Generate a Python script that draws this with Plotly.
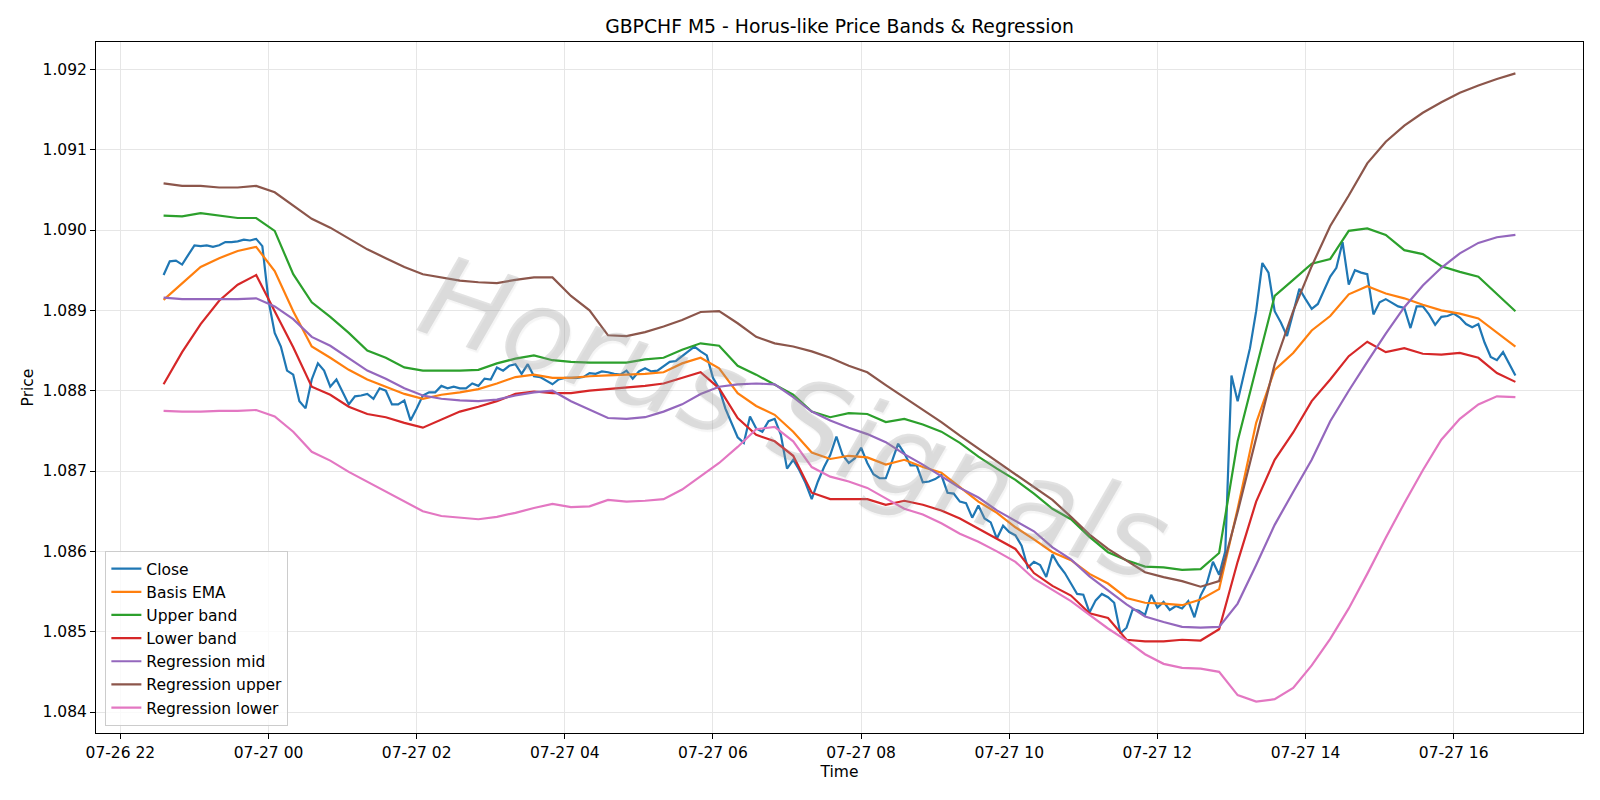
import pandas as pd
import plotly.graph_objects as go

# ---------------- data ----------------
close = [
    1.08944, 1.08961, 1.08962, 1.08957, 1.08969, 1.08981, 1.08980, 1.08981, 1.08979, 1.08981,
    1.08985, 1.08985, 1.08986, 1.08988, 1.08987, 1.08989, 1.08980, 1.08912, 1.08872, 1.08855,
    1.08825, 1.08820, 1.08787, 1.08778, 1.08814, 1.08834, 1.08825, 1.08805, 1.08814, 1.08799,
    1.08783, 1.08793, 1.08794, 1.08796, 1.08790, 1.08803, 1.08800, 1.08783, 1.08783, 1.08788,
    1.08763, 1.08778, 1.08794, 1.08798, 1.08798, 1.08806, 1.08803, 1.08805, 1.08803, 1.08803,
    1.08809, 1.08806, 1.08815, 1.08814, 1.08829, 1.08825, 1.08831, 1.08833, 1.08821, 1.08833,
    1.08818, 1.08817, 1.08813, 1.08808, 1.08814, 1.08816, 1.08816, 1.08816, 1.08817, 1.08822,
    1.08821, 1.08824, 1.08823, 1.08821, 1.08820, 1.08825, 1.08815, 1.08824, 1.08828, 1.08824,
    1.08825, 1.08830, 1.08836, 1.08837, 1.08843, 1.08849, 1.08855, 1.08849, 1.08844, 1.08816,
    1.08803, 1.08778, 1.08760, 1.08742, 1.08735, 1.08768, 1.08753, 1.08749, 1.08762, 1.08765,
    1.08745, 1.08703, 1.08714, 1.08701, 1.08685, 1.08665, 1.08687, 1.08705, 1.08720, 1.08743,
    1.08720, 1.08710, 1.08716, 1.08729, 1.08710, 1.08696, 1.08691, 1.08691, 1.08712, 1.08734,
    1.08722, 1.08707, 1.08707, 1.08686, 1.08687, 1.08690, 1.08695, 1.08673, 1.08672, 1.08662,
    1.08660, 1.08642, 1.08657, 1.08641, 1.08636, 1.08616, 1.08632, 1.08624, 1.08620, 1.08607,
    1.08580, 1.08587, 1.08583, 1.08568, 1.08596, 1.08583, 1.08573, 1.08560, 1.08547, 1.08546,
    1.08524, 1.08539, 1.08547, 1.08543, 1.08536, 1.08498, 1.08505, 1.08528, 1.08526, 1.08521,
    1.08546, 1.08530, 1.08537, 1.08527, 1.08532, 1.08529, 1.08538, 1.08518, 1.08545, 1.08560,
    1.08587, 1.08571, 1.08600, 1.08819, 1.08787, 1.08820, 1.08853, 1.08899, 1.08959, 1.08947,
    1.08899, 1.08885, 1.08868, 1.08897, 1.08927, 1.08914, 1.08902, 1.08908, 1.08925, 1.08942,
    1.08953, 1.08985, 1.08932, 1.08950, 1.08947, 1.08945, 1.08895, 1.08910, 1.08914, 1.08910,
    1.08905, 1.08903, 1.08878, 1.08905, 1.08905, 1.08895, 1.08882, 1.08892, 1.08893, 1.08896,
    1.08891, 1.08883, 1.08879, 1.08883, 1.08860, 1.08842, 1.08838, 1.08848, 1.08833, 1.08819,
]

# smooth series, sampled every 15 minutes
basis_ema = [
    1.08913, 1.08934, 1.08954, 1.08965, 1.08974, 1.08979, 1.08949, 1.08899, 1.08855, 1.08841,
    1.08826, 1.08814, 1.08805, 1.08796, 1.08790, 1.08795, 1.08798, 1.08802, 1.08809, 1.08817,
    1.08820, 1.08816, 1.08816, 1.08818, 1.08819, 1.08820, 1.08821, 1.08823, 1.08834, 1.08841,
    1.08828, 1.08797, 1.08781, 1.08770, 1.08749, 1.08723, 1.08715, 1.08719, 1.08717, 1.08708,
    1.08714, 1.08705, 1.08698, 1.08680, 1.08662, 1.08648, 1.08630, 1.08615, 1.08599, 1.08589,
    1.08572, 1.08560, 1.08542, 1.08536, 1.08535, 1.08533, 1.08540, 1.08553, 1.08653, 1.08760,
    1.08826, 1.08847, 1.08875, 1.08893, 1.08920, 1.08930, 1.08921, 1.08915, 1.08907, 1.08900,
    1.08896, 1.08890, 1.08872, 1.08855,
]
upper_band = [
    1.09018, 1.09017, 1.09021, 1.09018, 1.09015, 1.09015, 1.08999, 1.08945, 1.08910, 1.08892,
    1.08872, 1.08850, 1.08841, 1.08829, 1.08825, 1.08825, 1.08825, 1.08826, 1.08834, 1.08840,
    1.08844, 1.08838, 1.08836, 1.08835, 1.08835, 1.08835, 1.08839, 1.08841, 1.08851, 1.08859,
    1.08856, 1.08831, 1.08820, 1.08808, 1.08795, 1.08774, 1.08767, 1.08772, 1.08771, 1.08761,
    1.08765, 1.08758, 1.08749, 1.08735, 1.08718, 1.08703, 1.08689, 1.08672, 1.08653, 1.08640,
    1.08618, 1.08599, 1.08589, 1.08581, 1.08580, 1.08577, 1.08578, 1.08598, 1.08737, 1.08828,
    1.08918, 1.08938, 1.08958, 1.08964, 1.08999, 1.09002, 1.08994, 1.08975, 1.08970, 1.08955,
    1.08948, 1.08942, 1.08921, 1.08899,
]
lower_band = [
    1.08808, 1.08848, 1.08883, 1.08912, 1.08932, 1.08944, 1.08899, 1.08854, 1.08805, 1.08795,
    1.08780, 1.08771, 1.08767, 1.08760, 1.08754, 1.08764, 1.08774, 1.08780, 1.08787, 1.08796,
    1.08799, 1.08797, 1.08797, 1.08800, 1.08802, 1.08804, 1.08806, 1.08809, 1.08816, 1.08823,
    1.08803, 1.08766, 1.08745, 1.08737, 1.08719, 1.08673, 1.08665, 1.08665, 1.08665, 1.08658,
    1.08663, 1.08658, 1.08651, 1.08641, 1.08628, 1.08615, 1.08603, 1.08573, 1.08557, 1.08545,
    1.08523, 1.08517, 1.08490, 1.08488, 1.08488, 1.08490, 1.08489, 1.08503, 1.08587, 1.08662,
    1.08714, 1.08748, 1.08787, 1.08814, 1.08843, 1.08861, 1.08848, 1.08853, 1.08846, 1.08845,
    1.08847, 1.08841, 1.08822, 1.08811,
]
reg_mid = [
    1.08916, 1.08914, 1.08914, 1.08914, 1.08914, 1.08915, 1.08905, 1.08889, 1.08867, 1.08856,
    1.08840, 1.08825, 1.08815, 1.08803, 1.08794, 1.08790, 1.08788, 1.08787, 1.08789, 1.08794,
    1.08798, 1.08800, 1.08787, 1.08776, 1.08766, 1.08765, 1.08767, 1.08774, 1.08783, 1.08796,
    1.08805, 1.08808, 1.08809, 1.08808, 1.08792, 1.08774, 1.08763, 1.08754, 1.08746, 1.08736,
    1.08721, 1.08708, 1.08694, 1.08679, 1.08667, 1.08651, 1.08638, 1.08625, 1.08605, 1.08590,
    1.08569, 1.08551, 1.08534, 1.08519, 1.08512, 1.08506, 1.08505, 1.08506, 1.08535, 1.08583,
    1.08633, 1.08674, 1.08714, 1.08762, 1.08800, 1.08836, 1.08871, 1.08904, 1.08931, 1.08953,
    1.08971, 1.08984, 1.08991, 1.08994,
]
reg_upper = [
    1.09058, 1.09055, 1.09055, 1.09053, 1.09053, 1.09055, 1.09047, 1.09031, 1.09014, 1.09003,
    1.08990, 1.08976, 1.08965, 1.08954, 1.08945, 1.08941, 1.08937, 1.08935, 1.08934, 1.08938,
    1.08941, 1.08941, 1.08918, 1.08900, 1.08869, 1.08868, 1.08873, 1.08880, 1.08888, 1.08898,
    1.08899, 1.08884, 1.08867, 1.08859, 1.08855, 1.08849, 1.08841, 1.08831, 1.08823, 1.08807,
    1.08792, 1.08777, 1.08761, 1.08744, 1.08728, 1.08712, 1.08697, 1.08681, 1.08664, 1.08643,
    1.08621, 1.08603, 1.08588, 1.08574, 1.08568, 1.08563, 1.08556, 1.08563, 1.08649, 1.08741,
    1.08833, 1.08899, 1.08955, 1.09005, 1.09043, 1.09083, 1.09110, 1.09130, 1.09146, 1.09159,
    1.09171, 1.09180, 1.09188, 1.09195,
]
reg_lower = [
    1.08775, 1.08774, 1.08774, 1.08775, 1.08775, 1.08776, 1.08768, 1.08749, 1.08724, 1.08713,
    1.08699, 1.08687, 1.08675, 1.08663, 1.08650, 1.08644, 1.08642, 1.08640, 1.08643, 1.08648,
    1.08654, 1.08659, 1.08655, 1.08656, 1.08664, 1.08662, 1.08663, 1.08665, 1.08677, 1.08694,
    1.08710, 1.08730, 1.08752, 1.08755, 1.08737, 1.08705, 1.08693, 1.08687, 1.08679, 1.08666,
    1.08653, 1.08646, 1.08635, 1.08622, 1.08612, 1.08600, 1.08587, 1.08566, 1.08552, 1.08538,
    1.08521, 1.08504, 1.08489, 1.08472, 1.08460, 1.08455, 1.08454, 1.08450, 1.08421, 1.08413,
    1.08416, 1.08430, 1.08458, 1.08491, 1.08529, 1.08572, 1.08617, 1.08660, 1.08701, 1.08739,
    1.08765, 1.08783, 1.08793, 1.08792,
]

series_names = ["Close", "Basis EMA", "Upper band", "Lower band",
                "Regression mid", "Regression upper", "Regression lower"]
colors = ["#1f77b4", "#ff7f0e", "#2ca02c", "#d62728", "#9467bd", "#8c564b", "#e377c2"]

time_5m = pd.date_range("2025-07-26 22:35", periods=len(close), freq="5min")
time_15m = time_5m[::3]

# ---------------- figure ----------------
fig = go.Figure()
all_series = [
    (time_5m, close),
    (time_15m, basis_ema),
    (time_15m, upper_band),
    (time_15m, lower_band),
    (time_15m, reg_mid),
    (time_15m, reg_upper),
    (time_15m, reg_lower),
]
for (t, v), name, c in zip(all_series, series_names, colors):
    fig.add_trace(go.Scatter(x=t, y=v, mode="lines", name=name,
                             line=dict(color=c, width=2.2)))

# autoscale with 5% margins (like matplotlib)
t0, t1 = time_5m[0], time_5m[-1]
tspan = t1 - t0
xr = [(t0 - tspan * 0.05).strftime("%Y-%m-%d %H:%M:%S"),
      (t1 + tspan * 0.05).strftime("%Y-%m-%d %H:%M:%S")]
allv = [x for _, v in all_series for x in v]
vmin, vmax = min(allv), max(allv)
vspan = vmax - vmin
yr = [vmin - 0.05 * vspan, vmax + 0.05 * vspan]

FS = 15.5
grid = "#e6e6e6"
fig.update_layout(
    width=1600, height=800,
    margin=dict(l=96, r=17, t=42, b=67),
    paper_bgcolor="white", plot_bgcolor="white",
    font=dict(family="DejaVu Sans", size=FS, color="black"),
    title=dict(text="GBPCHF M5 - Horus-like Price Bands & Regression",
               x=0.5, xref="paper", xanchor="center",
               y=1 - 26 / 800, yref="container", yanchor="middle",
               font=dict(size=18.8, color="black")),
    showlegend=True,
    legend=dict(x=0.0063, y=0.010, xanchor="left", yanchor="bottom",
                bgcolor="rgba(255,255,255,0.8)", bordercolor="#cccccc",
                borderwidth=1, font=dict(size=FS), tracegroupgap=0),
    xaxis=dict(type="date", range=xr, tickformat="%m-%d %H",
               tick0="2025-07-26 22:00", dtick=7200000,
               ticks="outside", ticklen=5, tickwidth=1, tickcolor="black",
               showline=True, linecolor="black", linewidth=1, mirror=True,
               showgrid=True, gridcolor=grid, gridwidth=1, zeroline=False,
               automargin=False, tickfont=dict(size=FS),
               title=dict(text="Time", standoff=5, font=dict(size=FS))),
    yaxis=dict(range=yr, dtick=0.001, tick0=1.084, tickformat=".3f",
               ticks="outside", ticklen=5, tickwidth=1, tickcolor="black",
               showline=True, linecolor="black", linewidth=1, mirror=True,
               showgrid=True, gridcolor=grid, gridwidth=1, zeroline=False,
               automargin=False, tickfont=dict(size=FS),
               title=dict(text="Price", standoff=5, font=dict(size=FS))),
)

fig.add_annotation(
    text="Horus Signals", xref="paper", yref="paper",
    x=0.47, y=0.455, xanchor="center", yanchor="middle",
    showarrow=False, textangle=19,
    font=dict(family="DejaVu Sans", size=114, weight=200,
              color="rgba(150,150,150,0.28)", style="italic",
              shadow="2px 2px 1px rgba(110,110,110,0.25)"),
)

fig.write_html("out.html")
